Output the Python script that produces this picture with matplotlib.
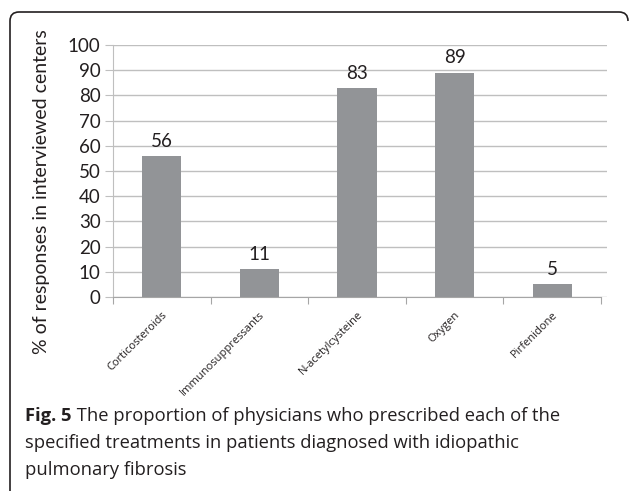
import matplotlib
matplotlib.use("Agg")
import matplotlib.pyplot as plt
from matplotlib.path import Path
from matplotlib.patches import PathPatch

treatments = ["Corticosteroids", "Immunosuppressants", "N-acetylcysteine", "Oxygen", "Pirfenidone"]
percent = [56, 11, 83, 89, 5]
yticks = list(range(0, 101, 10))

W, H = 629, 491
fig = plt.figure(figsize=(W / 100, H / 100), dpi=100)

# rounded bracket-style frame (pixel coords -> figure fraction)
def px(x, y):
    return (x / W, 1 - y / H)

r = 9
verts = [px(10, 491), px(10, 12 + r), px(10, 12), px(10 + r, 12),
         px(628 - r, 12), px(628, 12), px(628, 12 + r)]
codes = [Path.MOVETO, Path.LINETO, Path.CURVE3, Path.CURVE3,
         Path.LINETO, Path.CURVE3, Path.CURVE3]
frame = PathPatch(Path(verts, codes), facecolor="none", edgecolor="#231f20",
                  lw=1.2, transform=fig.transFigure)
fig.patches.append(frame)

ax = fig.add_axes([113 / W, 1 - 297 / H, (607 - 113) / W, (297 - 45) / H])
x = range(len(treatments))
ax.bar(x, percent, width=0.4, color="#929497", zorder=3)

ax.set_xlim(-0.5, 4.5 + 6 / 97.6)
ax.set_ylim(0, 100)
ax.set_yticks(yticks)
ax.yaxis.grid(True, color="#bfbfbf", lw=1.0, zorder=0)
ax.tick_params(axis="y", length=6, color="#bfbfbf", labelsize=13.5, labelcolor="#231f20", pad=3)
for lab in ax.get_yticklabels():
    lab.set_family("Lato")

ax.set_xticks([i - 0.5 for i in range(len(treatments) + 1)], minor=False)
ax.set_xticklabels([])
ax.tick_params(axis="x", length=5, color="#a6a6a6")
ax.set_xticks(list(x), minor=True)
ax.set_xticklabels(treatments, minor=True, rotation=45, ha="right", va="top",
                   rotation_mode="anchor", fontsize=8, family="Open Sans", color="#231f20")
ax.tick_params(axis="x", which="minor", length=0, pad=9)

for s in ["top", "right"]:
    ax.spines[s].set_visible(False)
ax.spines["left"].set_color("#bfbfbf")
ax.spines["bottom"].set_color("#a6a6a6")
ax.spines["bottom"].set_bounds(-0.5, 4.5)

for i, v in zip(x, percent):
    ax.text(i, v + 2.5, str(v), ha="center", va="bottom", fontsize=13.5,
            family="Lato", color="#231f20")

ax.set_ylabel("% of responses in interviewed centers", fontsize=14, family="Lato",
              color="#231f20")
ax.yaxis.set_label_coords(-0.128, 0.42)

# caption
cap_color = "#231f20"
cap_size = 13.2
t1 = fig.text(25 / W, 1 - 421 / H, "Fig. 5", fontsize=cap_size, fontweight="bold",
              family="Open Sans", color=cap_color)
ax.annotate(" The proportion of physicians who prescribed each of the", xy=(1, 0),
            xycoords=t1, va="bottom", ha="left", fontsize=cap_size, family="Open Sans",
            color=cap_color, annotation_clip=False)
fig.text(25 / W, 1 - 448 / H, "specified treatments in patients diagnosed with idiopathic",
         fontsize=cap_size, family="Open Sans", color=cap_color)
fig.text(25 / W, 1 - 475 / H, "pulmonary fibrosis",
         fontsize=cap_size, family="Open Sans", color=cap_color)

fig.savefig("out.png", dpi=100)
